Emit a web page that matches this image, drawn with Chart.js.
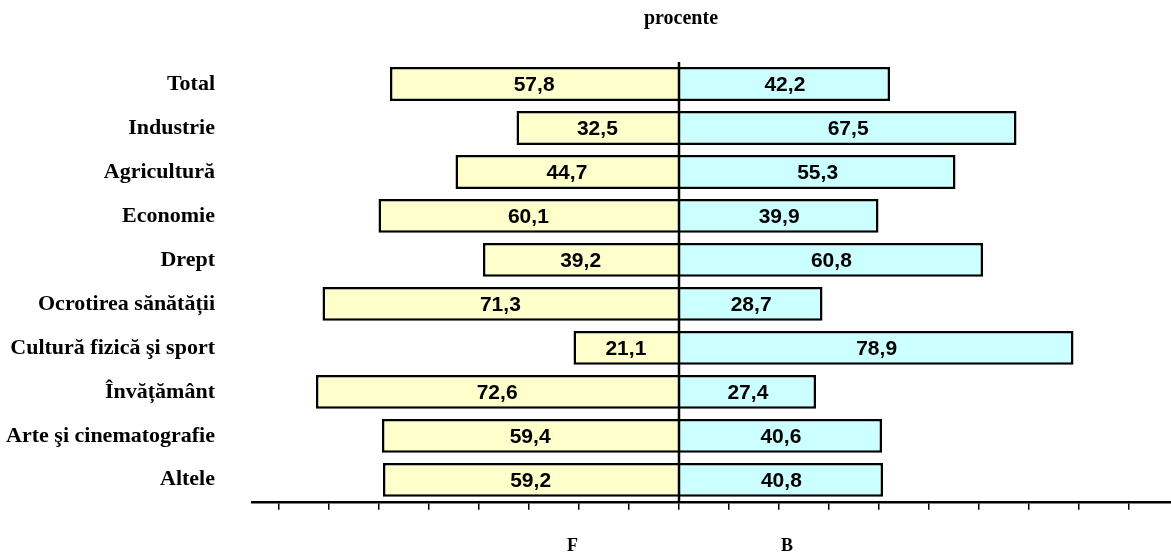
<!DOCTYPE html>
<html>
<head>
<meta charset="utf-8">
<script src="https://cdn.jsdelivr.net/npm/chart.js@4"></script>
<style>
html,body{margin:0;padding:0;background:#fff;}
#wrap{width:1171px;height:552px;position:relative;}
</style>
</head>
<body>
<div id="wrap"><canvas id="c"></canvas></div>
<script>
const categories = ["Total","Industrie","Agricultură","Economie","Drept","Ocrotirea sănătății","Cultură fizică şi sport","Învățământ","Arte şi cinematografie","Altele"];
const femei = [57.8,32.5,44.7,60.1,39.2,71.3,21.1,72.6,59.4,59.2];
const barbati = [42.2,67.5,55.3,39.9,60.8,28.7,78.9,27.4,40.6,40.8];
const seriesNames = ["F","B"];
const seriesLabelAt = [-21.3, 21.6];
const titleText = "procente";

const serif = "'Liberation Serif','Times New Roman',serif";
const sans = "'Liberation Sans',Arial,sans-serif";

const textPlugin = {
  id: 'texts',
  afterDatasetsDraw(chart) {
    const ctx = chart.ctx;
    const xs = chart.scales.x;
    const area = chart.chartArea;
    ctx.save();
    const x0 = xs.getPixelForValue(0);
    ctx.strokeStyle = '#000';
    ctx.lineWidth = 2.5;
    ctx.beginPath();
    ctx.moveTo(x0, area.top);
    ctx.lineTo(x0, area.bottom);
    ctx.stroke();
    ctx.fillStyle = '#000';
    ctx.font = "bold 21px " + sans;
    ctx.textAlign = 'center';
    ctx.textBaseline = 'middle';
    chart.data.datasets.forEach((ds, di) => {
      const meta = chart.getDatasetMeta(di);
      meta.data.forEach((el, i) => {
        const v = Math.abs(ds.data[i]);
        const cx = (el.x + el.base) / 2;
        ctx.fillText(v.toFixed(1).replace('.', ','), cx, el.y + 1);
      });
    });
    ctx.restore();
  },
  afterDraw(chart) {
    const ctx = chart.ctx;
    const xs = chart.scales.x;
    ctx.save();
    ctx.fillStyle = '#000';
    ctx.textAlign = 'center';
    ctx.textBaseline = 'middle';
    ctx.font = "bold 20px " + serif;
    ctx.fillText(titleText, xs.getPixelForValue(0) + 2, 19);
    ctx.font = "bold 18px " + serif;
    seriesNames.forEach((n, i) => {
      ctx.fillText(n, xs.getPixelForValue(seriesLabelAt[i]), 546);
    });
    ctx.restore();
  }
};

new Chart(document.getElementById('c'), {
  type: 'bar',
  data: {
    labels: categories,
    datasets: [
      { label: seriesNames[0], data: femei.map(v => -v), backgroundColor: '#FFFFCC', borderColor: '#000', borderWidth: 2.5, borderSkipped: 'start', stack: 's' },
      { label: seriesNames[1], data: barbati, backgroundColor: '#CCFFFF', borderColor: '#000', borderWidth: 2.5, borderSkipped: 'start', stack: 's' }
    ]
  },
  options: {
    indexAxis: 'y',
    responsive: true,
    maintainAspectRatio: false,
    animation: false,
    layout: { padding: { top: 62, left: 0, right: 0, bottom: 0 } },
    datasets: { bar: { categoryPercentage: 1, barPercentage: 0.77 } },
    plugins: { legend: { display: false }, title: { display: false }, tooltip: { enabled: false } },
    scales: {
      x: {
        stacked: true,
        min: -85.4,
        max: 98.4,
        afterFit(s) { s.height = 48; },
        ticks: { display: false, stepSize: 10, includeBounds: false },
        border: { display: true, color: '#000', width: 2.5 },
        grid: {
          drawOnChartArea: false,
          color: '#000',
          lineWidth: 1.5,
          drawTicks: true,
          tickLength: 8,
          tickColor: '#000',
          tickWidth: 1.5
        }
      },
      y: {
        stacked: true,
        afterFit(s) { s.width = 252; },
        border: { display: false },
        grid: { display: false, drawTicks: false },
        ticks: { color: '#000', padding: 37, font: { family: serif, size: 22, weight: 'bold' } }
      }
    }
  },
  plugins: [textPlugin]
});
</script>
</body>
</html>
